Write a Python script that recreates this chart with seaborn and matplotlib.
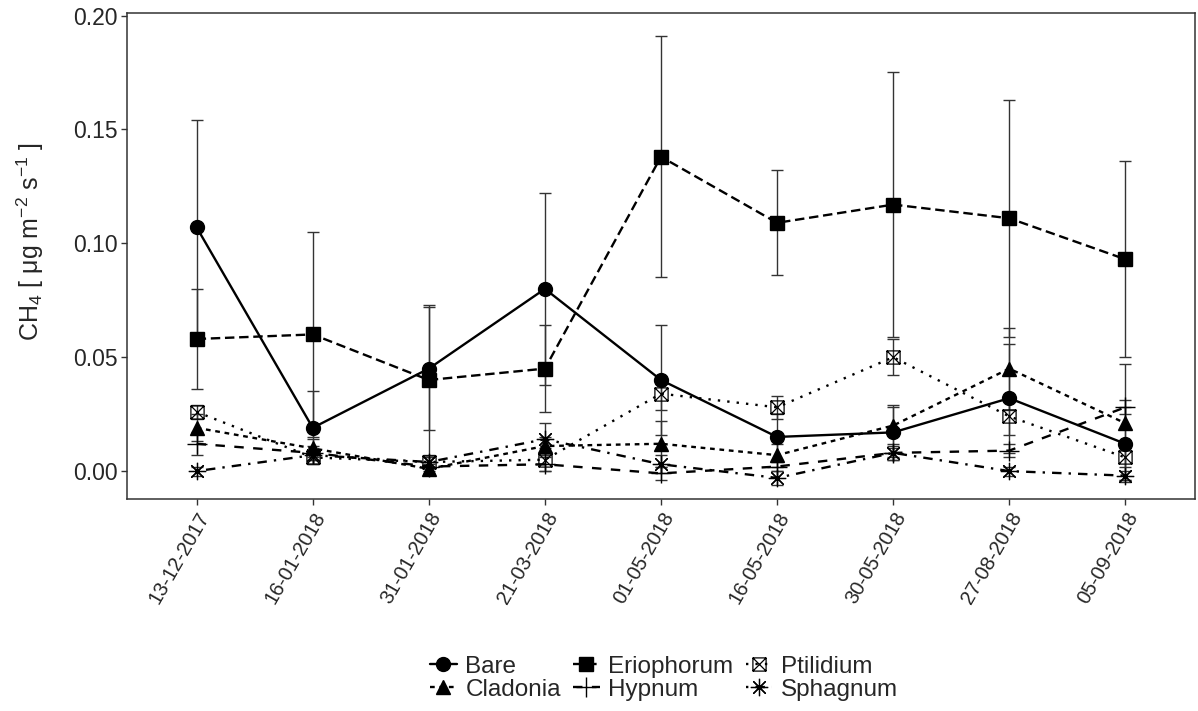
import numpy as np
import pandas as pd
import matplotlib
matplotlib.use("Agg")
import matplotlib.pyplot as plt
import seaborn as sns
from matplotlib.path import Path

# sampling dates and mean CH4 flux (+/- SE) per ground cover
dates = ["13-12-2017", "16-01-2018", "31-01-2018", "21-03-2018", "01-05-2018",
         "16-05-2018", "30-05-2018", "27-08-2018", "05-09-2018"]
covers = ["Bare", "Cladonia", "Eriophorum", "Hypnum", "Ptilidium", "Sphagnum"]

bare = [0.107, 0.019, 0.045, 0.080, 0.040, 0.015, 0.017, 0.032, 0.012]
bare_se = [0.047, 0.016, 0.027, 0.042, 0.024, 0.010, 0.012, 0.024, 0.016]
cladonia = [0.019, 0.010, 0.001, 0.011, 0.012, 0.007, 0.020, 0.045, 0.021]
cladonia_se = [0.006, 0.004, 0.002, 0.004, 0.010, 0.005, 0.008, 0.018, 0.026]
eriophorum = [0.058, 0.060, 0.040, 0.045, 0.138, 0.109, 0.117, 0.111, 0.093]
eriophorum_se = [0.022, 0.045, 0.033, 0.019, 0.053, 0.023, 0.058, 0.052, 0.043]
hypnum = [0.012, 0.008, 0.002, 0.003, -0.001, 0.002, 0.008, 0.009, 0.028]
hypnum_se = [0.005, 0.003, 0.002, 0.003, 0.003, 0.002, 0.003, 0.003, 0.003]
ptilidium = [0.026, 0.006, 0.004, 0.005, 0.034, 0.028, 0.050, 0.024, 0.006]
ptilidium_se = [0.003, 0.003, 0.002, 0.005, 0.007, 0.005, 0.008, 0.008, 0.004]
sphagnum = [0.000, 0.007, 0.004, 0.014, 0.003, -0.003, 0.008, 0.000, -0.002]
sphagnum_se = [0.002, 0.002, 0.002, 0.007, 0.004, 0.003, 0.002, 0.002, 0.002]

means = [bare, cladonia, eriophorum, hypnum, ptilidium, sphagnum]
ses = [bare_se, cladonia_se, eriophorum_se, hypnum_se, ptilidium_se, sphagnum_se]

rows = []
for cover, m, s in zip(covers, means, ses):
    for i, d in enumerate(dates):
        rows.append({"cover": cover, "date": d, "pos": i, "flux": m[i], "se": s[i]})
df = pd.DataFrame(rows)

# open square with a cross inside (ggplot shape 7)
box_x = Path([(-1, -1), (1, -1), (1, 1), (-1, 1), (-1, -1), (-1, -1), (1, 1), (-1, 1), (1, -1)],
             [Path.MOVETO, Path.LINETO, Path.LINETO, Path.LINETO, Path.CLOSEPOLY,
              Path.MOVETO, Path.LINETO, Path.MOVETO, Path.LINETO])

styles = {
    "Bare": dict(marker="o", ls="-", ms=10, mfc="black", mew=1.0),
    "Cladonia": dict(marker="^", ls=(0, (2, 2)), ms=10, mfc="black", mew=1.0),
    "Eriophorum": dict(marker="s", ls=(0, (4, 2)), ms=9.5, mfc="black", mew=1.0),
    "Hypnum": dict(marker="+", ls=(0, (4, 4)), ms=14, mfc="black", mew=1.0),
    "Ptilidium": dict(marker=box_x, ls=(0, (1, 3)), ms=9.5, mfc="none", mew=0.9),
    "Sphagnum": dict(marker=(8, 2, 0), ls=(0, (1, 3, 4, 3)), ms=12.5, mfc="black", mew=0.9),
}

sns.set_theme(style="white")
plt.rcParams["font.family"] = ["Liberation Sans", "DejaVu Sans"]
plt.rcParams["mathtext.fontset"] = "custom"
plt.rcParams["mathtext.rm"] = "Liberation Sans"
plt.rcParams["mathtext.it"] = "Liberation Sans"
plt.rcParams["mathtext.default"] = "regular"

fig, ax = plt.subplots(figsize=(11.98, 7.11), dpi=100)
fig.subplots_adjust(left=0.106, right=0.9975, top=0.982, bottom=0.298)

handles = []
for cover in covers:
    sub = df[df["cover"] == cover]
    st = styles[cover]
    ax.errorbar(sub["pos"], sub["flux"], yerr=sub["se"], fmt="none",
                ecolor="#333333", elinewidth=1.0, capsize=4.2, capthick=1.0, zorder=1)
    sns.lineplot(data=sub, x="pos", y="flux", color="black", linewidth=1.7,
                 linestyle=st["ls"], marker=st["marker"], markersize=st["ms"],
                 markerfacecolor=st["mfc"], markeredgecolor="black",
                 markeredgewidth=st["mew"], errorbar=None, ax=ax, zorder=3)
    handles.append(ax.lines[-1])

ax.set_xlim(-0.6, 8.6)
ax.set_ylim(-0.0123, 0.2012)
ax.set_xticks(range(len(dates)))
ax.set_xticklabels(dates, rotation=60, ha="right", rotation_mode="anchor", fontsize=14.5)
ax.set_yticks([0.0, 0.05, 0.10, 0.15, 0.20])
ax.set_yticklabels([f"{v:.2f}" for v in [0.0, 0.05, 0.10, 0.15, 0.20]], fontsize=16.5)
ax.tick_params(axis="both", direction="out", length=4, width=1, color="#333333",
               bottom=True, left=True, pad=3)
for sp in ax.spines.values():
    sp.set_color("#333333")
    sp.set_linewidth(1.1)

ax.set_xlabel("")
ax.set_ylabel(r"CH$_4$ [ μg m$^{-2}$ s$^{-1}$ ]", fontsize=18)
ax.yaxis.set_label_coords(-0.076, 0.53)

fig.legend(handles=handles, labels=covers, loc="center", ncol=3,
           bbox_to_anchor=(664 / 1198, 0.046), frameon=False, fontsize=17.5,
           handlelength=1.1, handletextpad=0.35, columnspacing=0.5, labelspacing=0.05)

fig.savefig("out.png", dpi=100)
